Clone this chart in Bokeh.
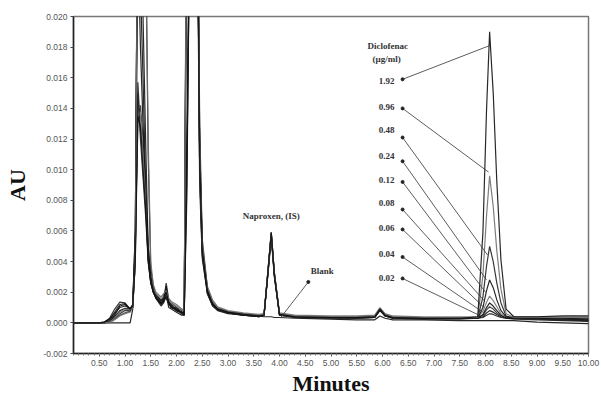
from bokeh.plotting import figure
from bokeh.models import FixedTicker, NumeralTickFormatter, Range1d
from bokeh.embed import file_html
from bokeh.resources import INLINE
from bokeh.core.properties import value

# ---------------- data (time in minutes, absorbance in mAU) ----------------
times = [0.0, 0.5, 0.6, 0.7, 0.8, 0.9, 1.0, 1.1, 1.15, 1.2,
         1.25, 1.3, 1.35, 1.4, 1.45, 1.5, 1.55, 1.6,
         1.7, 1.75, 1.8, 1.85, 1.9, 2.0, 2.1, 2.15,
         2.2, 2.3, 2.4, 2.45, 2.5,
         2.6, 2.7, 2.8, 3.0, 3.3, 3.6,
         3.7, 3.78, 3.84, 3.9, 4.0, 4.3,
         5.0, 5.5, 5.85, 5.95, 6.05, 6.2, 6.8, 7.5,
         7.85, 7.95, 8.02, 8.08, 8.15, 8.22, 8.3, 8.4, 8.55,
         9.0, 9.5, 10.0]

blank = [0, 0, 0, 0, 0, 0, 0, 0, 0.9, 5,
         32, 32, 30, 26, 11, 3.6, 2.4, 1.9,
         1.4, 1.5, 1.6, 1.3, 1.1, 0.9, 0.7, 0.6,
         30, 40, 32, 12, 5,
         2.2, 1.3, 0.9, 0.7, 0.55, 0.45,
         0.4, 0.4, 0.4, 0.35, 0.35, 0.3,
         0.25, 0.2, 0.2, 0.45, 0.3, 0.2, 0.2, 0.15,
         0.15, 0.15, 0.15, 0.15, 0.15, 0.15, 0.15, 0.15, 0.15,
         0.05, 0.0, -0.05]
c002 = [0, 0, 0.05, 0.3, 0.9, 1.35, 1.3, 0.9, 1.0, 4,
        15.7, 12.5, 11.5, 8, 4, 2.6, 2.0, 1.7,
        1.2, 1.4, 2.6, 1.5, 1.0, 1.0, 0.6, 0.5,
        10, 38, 30, 10, 4.5,
        2.0, 1.2, 0.85, 0.65, 0.5, 0.45,
        0.6, 3.4, 5.8, 3.1, 0.6, 0.4,
        0.35, 0.35, 0.4, 0.9, 0.5, 0.35, 0.3, 0.3,
        0.3, 0.35, 0.5, 0.6, 0.55, 0.45, 0.35, 0.3, 0.25,
        0.2, 0.15, 0.1]
c004 = [0, 0, 0, 0.1, 0.4, 0.8, 0.95, 0.9, 1.1, 6,
        30, 22, 16, 9, 4.5, 2.8, 2.1, 1.8,
        1.5, 1.6, 2.0, 1.4, 1.2, 0.8, 0.7, 0.6,
        32, 40, 28, 9, 4.2,
        1.9, 1.1, 0.8, 0.6, 0.5, 0.4,
        0.5, 3.6, 5.9, 3.3, 0.5, 0.4,
        0.35, 0.3, 0.35, 0.85, 0.45, 0.3, 0.3, 0.3,
        0.3, 0.4, 0.65, 0.8, 0.7, 0.55, 0.4, 0.3, 0.3,
        0.3, 0.25, 0.2]
c006 = [0, 0, 0, 0.05, 0.25, 0.5, 0.65, 0.75, 1.2, 5,
        13, 14.2, 12, 9, 5, 3.0, 2.2, 1.8,
        1.3, 1.8, 2.2, 1.2, 1.3, 1.0, 0.8, 0.7,
        8, 40, 34, 13, 5.5,
        2.3, 1.4, 1.0, 0.75, 0.6, 0.5,
        0.55, 3.5, 5.7, 3.2, 0.6, 0.45,
        0.4, 0.4, 0.45, 0.95, 0.55, 0.4, 0.35, 0.35,
        0.35, 0.5, 0.85, 1.05, 0.9, 0.65, 0.45, 0.35, 0.35,
        0.35, 0.3, 0.3]
c008 = [0, 0, 0, 0.1, 0.5, 1.1, 1.2, 0.9, 1.0, 4,
        25, 18, 13, 8.5, 4.2, 2.7, 2.0, 1.6,
        1.1, 1.3, 1.8, 1.0, 0.9, 0.7, 0.5, 0.5,
        28, 40, 30, 11, 4.8,
        2.1, 1.2, 0.9, 0.65, 0.5, 0.4,
        0.5, 3.3, 5.6, 3.0, 0.5, 0.35,
        0.3, 0.3, 0.35, 0.8, 0.45, 0.3, 0.25, 0.25,
        0.3, 0.55, 1.0, 1.3, 1.1, 0.8, 0.5, 0.35, 0.3,
        0.25, 0.2, 0.15]
c012 = [0, 0, 0, 0, 0.2, 0.45, 0.6, 0.7, 1.0, 5,
        14, 13.5, 11, 8, 4.5, 2.9, 2.2, 1.9,
        1.6, 1.7, 1.9, 1.5, 1.3, 1.1, 0.9, 0.8,
        34, 40, 30, 10, 4.6,
        2.4, 1.5, 1.05, 0.8, 0.65, 0.55,
        0.6, 3.5, 5.8, 3.2, 0.65, 0.5,
        0.45, 0.45, 0.5, 1.0, 0.6, 0.45, 0.4, 0.4,
        0.4, 0.75, 1.35, 1.75, 1.45, 1.05, 0.6, 0.4, 0.4,
        0.4, 0.4, 0.4]
c024 = [0, 0, 0.05, 0.2, 0.6, 1.0, 1.1, 0.95, 1.2, 6,
        30, 26, 20, 12, 5, 3.0, 2.1, 1.7,
        1.2, 1.5, 2.4, 1.2, 1.0, 0.9, 0.7, 0.6,
        12, 40, 31, 11, 5,
        2.0, 1.2, 0.9, 0.7, 0.55, 0.45,
        0.5, 3.5, 5.9, 3.2, 0.55, 0.4,
        0.35, 0.35, 0.4, 0.9, 0.5, 0.35, 0.3, 0.3,
        0.3, 1.0, 2.1, 2.8, 2.3, 1.5, 0.8, 0.4, 0.3,
        0.3, 0.3, 0.25]
c048 = [0, 0, 0, 0.1, 0.3, 0.6, 0.8, 0.8, 1.1, 5,
        15, 12, 9.5, 7, 4, 2.6, 2.0, 1.7,
        1.4, 1.6, 1.7, 1.3, 1.1, 0.8, 0.6, 0.5,
        29, 40, 30, 10, 4.4,
        1.9, 1.15, 0.85, 0.65, 0.5, 0.4,
        0.5, 3.4, 5.7, 3.1, 0.5, 0.35,
        0.3, 0.3, 0.35, 0.85, 0.45, 0.3, 0.3, 0.3,
        0.3, 1.7, 3.7, 5.0, 4.0, 2.6, 1.3, 0.45, 0.3,
        0.25, 0.2, 0.15]
c096 = [0, 0, 0, 0.05, 0.3, 0.7, 0.9, 0.85, 1.0, 4,
        30, 30, 30, 25, 12, 4, 2.5, 2.0,
        1.7, 1.9, 2.1, 1.6, 1.4, 1.2, 0.9, 0.8,
        31, 40, 33, 12, 5.2,
        2.3, 1.4, 1.0, 0.75, 0.6, 0.5,
        0.55, 3.6, 5.9, 3.3, 0.6, 0.45,
        0.4, 0.4, 0.45, 0.95, 0.55, 0.4, 0.35, 0.35,
        0.35, 3.1, 7.0, 9.6, 7.6, 4.7, 2.2, 0.6, 0.35,
        0.35, 0.35, 0.35]
c192 = [0, 0, 0.05, 0.25, 0.7, 1.2, 1.25, 0.9, 1.1, 4,
        13.5, 12.8, 10, 7.5, 4.2, 2.7, 2.0, 1.6,
        1.3, 1.4, 2.0, 1.3, 1.0, 0.8, 0.7, 0.6,
        9, 40, 30, 11, 4.8,
        2.1, 1.25, 0.9, 0.7, 0.55, 0.45,
        0.5, 3.5, 5.9, 3.2, 0.55, 0.4,
        0.35, 0.35, 0.4, 0.9, 0.5, 0.35, 0.3, 0.3,
        0.4, 5.9, 13.9, 19.0, 15.0, 9.2, 4.1, 0.9, 0.4,
        0.4, 0.45, 0.45]

traces = [blank, c002, c004, c006, c008, c012, c024, c048, c096, c192]
trace_colors = ["#111111", "#222222", "#111111", "#333333", "#111111",
                "#777777", "#111111", "#222222", "#6f6f6f", "#111111"]

x_major_ticks = [0.5, 1.0, 1.5, 2.0, 2.5, 3.0, 3.5, 4.0, 4.5, 5.0,
                 5.5, 6.0, 6.5, 7.0, 7.5, 8.0, 8.5, 9.0, 9.5, 10.0]
y_major_ticks = [-0.002, 0.0, 0.002, 0.004, 0.006, 0.008, 0.010,
                 0.012, 0.014, 0.016, 0.018, 0.020]

# Diclofenac concentration annotations (µg/ml)
conc_labels = ["1.92", "0.96", "0.48", "0.24", "0.12", "0.08", "0.06", "0.04", "0.02"]
label_t = [6.08] * 9
label_au = [0.01577, 0.01407, 0.01257, 0.01088, 0.00932, 0.00782, 0.00619, 0.00450, 0.00293]
dot_t = [6.39] * 9
dot_au = [0.0159, 0.0140, 0.0121, 0.01055, 0.0092, 0.0074, 0.0061, 0.0043, 0.0029]
end_t = [8.08, 8.06, 8.04, 8.02, 8.00, 7.98, 7.96, 7.94, 7.90]
end_au = [0.0181, 0.00984, 0.00443, 0.0028, 0.0020, 0.00143, 0.00104, 0.00072, 0.00046]

# ---------------- figure ----------------
p = figure(width=601, height=398, x_range=Range1d(0, 10), y_range=Range1d(-0.002, 0.020),
           output_backend="svg", toolbar_location=None,
           min_border_left=73, min_border_right=13, min_border_top=16, min_border_bottom=45)
p.background_fill_color = "white"
p.border_fill_color = "white"
p.xgrid.visible = False
p.ygrid.visible = False
p.outline_line_color = "#777777"
p.outline_line_width = 1.5

for tr, col in zip(traces, trace_colors):
    p.line(times, [v / 1000.0 for v in tr], line_color=col, line_width=1.2, line_alpha=0.9)

# leader lines and labels
p.segment(x0=dot_t, y0=dot_au, x1=end_t, y1=end_au, line_color="#333333", line_width=0.8)
p.scatter(x=dot_t, y=dot_au, size=3, marker="circle", color="#222222")
p.text(x=label_t, y=label_au, text=conc_labels, text_font=value("Liberation Serif"),
       text_font_size="9px", text_font_style="bold", text_align="center",
       text_baseline="middle", text_color="#333333")
p.text(x=[6.10, 6.08], y=[0.01805, 0.0172], text=["Diclofenac", "(µg/ml)"],
       text_font=value("Liberation Serif"), text_font_size="9px", text_font_style="bold",
       text_align="center", text_baseline="middle", text_color="#333333")
p.text(x=[3.84], y=[0.00697], text=["Naproxen, (IS)"], text_font=value("Liberation Serif"),
       text_font_size="9px", text_font_style="bold", text_align="center",
       text_baseline="middle", text_color="#333333")
p.text(x=[4.83], y=[0.00339], text=["Blank"], text_font=value("Liberation Serif"),
       text_font_size="9px", text_font_style="bold", text_align="center",
       text_baseline="middle", text_color="#333333")
p.segment(x0=[4.56], y0=[0.00267], x1=[4.02], y1=[0.00033], line_color="#333333", line_width=0.8)
p.scatter(x=[4.56], y=[0.00267], size=3, marker="circle", color="#222222")

# axes
p.xaxis.ticker = FixedTicker(ticks=x_major_ticks,
                             minor_ticks=[round(i * 0.1, 1) for i in range(101)])
p.yaxis.ticker = FixedTicker(ticks=y_major_ticks, minor_ticks=[])
p.xaxis.formatter = NumeralTickFormatter(format="0.00")
p.yaxis.formatter = NumeralTickFormatter(format="0.000")
for ax in (p.xaxis[0], p.yaxis[0]):
    ax.axis_line_color = "#222222"
    ax.axis_line_width = 1.5
    ax.major_tick_line_color = "#444444"
    ax.minor_tick_line_color = "#777777"
    ax.major_tick_in = 0
    ax.major_tick_out = 3
    ax.minor_tick_in = 0
    ax.minor_tick_out = 2
    ax.major_label_text_font = "'Liberation Sans Narrow', 'Liberation Sans'"
    ax.major_label_text_font_size = "8.5px"
    ax.major_label_text_color = "#555555"
    ax.major_label_standoff = 3
    ax.axis_label_text_font = "Liberation Serif"
    ax.axis_label_text_font_size = "22px"
    ax.axis_label_text_font_style = "bold"
    ax.axis_label_text_color = "#111111"

p.xaxis.axis_label = "Minutes"
p.xaxis.axis_label_standoff = 2
p.yaxis.axis_label = "AU"
p.yaxis.axis_label_standoff = 10

open("out.html", "w").write(file_html(p, INLINE))
